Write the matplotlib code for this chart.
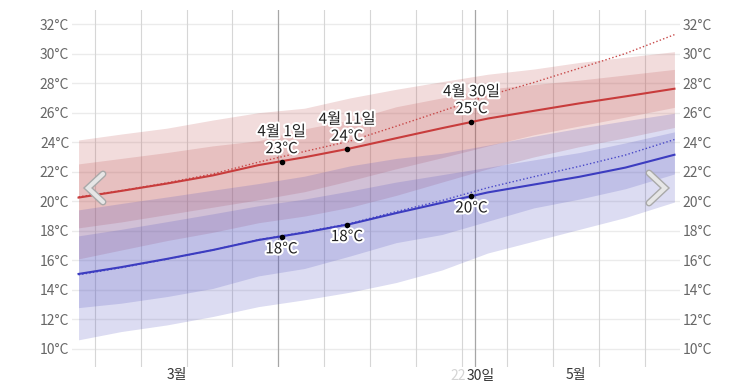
import matplotlib
matplotlib.use("Agg")
import matplotlib.pyplot as plt
import matplotlib.patheffects as pe
from matplotlib.lines import Line2D

plt.rcParams['font.family'] = ['Noto Sans CJK KR', 'DejaVu Sans']

# days counted from 1 Mar 00:00
days = [0.5, 7, 14, 21, 28, 35, 42, 49, 56, 63, 70, 77, 84, 91.5]

red_mean = [20.25, 20.7, 21.2, 21.75, 22.45, 22.98, 23.58, 24.27, 24.95, 25.6, 26.12, 26.63, 27.1, 27.62]
red_dot = [20.3, 20.72, 21.25, 21.85, 22.65, 23.37, 24.08, 25.08, 26.11, 27.15, 28.04, 29.01, 30.0, 31.28]
blue_mean = [15.08, 15.54, 16.1, 16.7, 17.38, 17.88, 18.46, 19.2, 19.9, 20.6, 21.13, 21.66, 22.28, 23.15]
blue_dot = [15.02, 15.5, 16.08, 16.7, 17.4, 17.92, 18.5, 19.3, 20.05, 20.92, 21.66, 22.37, 23.13, 24.18]

red_outer_hi = [24.15, 24.55, 24.95, 25.5, 26.0, 26.3, 27.0, 27.58, 28.1, 28.6, 28.95, 29.4, 29.75, 30.13]
red_outer_lo = [16.1, 16.7, 17.34, 17.9, 18.55, 19.0, 19.6, 20.4, 21.3, 22.2, 23.0, 23.7, 24.3, 25.0]
red_inner_hi = [22.53, 22.9, 23.3, 23.75, 24.1, 24.9, 25.5, 26.4, 27.0, 27.6, 27.9, 28.2, 28.55, 28.93]
red_inner_lo = [18.2, 18.6, 19.1, 19.6, 20.1, 20.65, 21.4, 22.2, 22.95, 23.75, 24.5, 25.1, 25.7, 26.36]
blue_outer_hi = [19.42, 19.85, 20.29, 20.75, 21.2, 21.7, 22.4, 22.9, 23.25, 23.8, 24.4, 24.95, 25.45, 25.96]
blue_outer_lo = [10.62, 11.18, 11.63, 12.2, 12.87, 13.33, 13.85, 14.5, 15.35, 16.5, 17.3, 18.1, 18.9, 19.95]
blue_inner_hi = [17.66, 18.1, 18.62, 19.15, 19.7, 20.15, 20.7, 21.3, 21.8, 22.3, 22.8, 23.3, 23.95, 24.7]
blue_inner_lo = [12.8, 13.1, 13.55, 14.1, 14.95, 15.45, 16.3, 17.2, 17.75, 18.65, 19.55, 20.15, 20.85, 21.85]

# highlighted days
mark_days = [31.5, 41.5, 60.5]
mark_names = ["4월 1일", "4월 11일", "4월 30일"]
mark_red = [22.68, 23.52, 25.39]
mark_blue = [17.59, 18.42, 20.36]

week_lines = [3, 10, 17, 24, 38, 45, 52, 59, 66, 73, 80, 87]
dark_lines = [31, 61]
month_pos = [15.5, 76.5]
month_labels = ["3월", "5월"]
yticks = list(range(10, 33, 2))

RED = "#be5050"
BLUE = "#5050be"

fig = plt.figure(figsize=(7.53, 3.87), dpi=100)
ax = fig.add_axes([72 / 753, 1 - 367 / 387, 608 / 753, 357 / 387])
ax.set_xlim(-0.5, 92.35)
ax.set_ylim(8.78, 32.95)

for y in yticks:
    ax.axhline(y, color="#ebebeb", lw=1, zorder=0)
for d in week_lines:
    ax.axvline(d, color="#d6d6d6", lw=0.8, zorder=0)
for d in dark_lines:
    ax.axvline(d, color="#a6a6a6", lw=0.9, zorder=0)

# bands
ax.fill_between(days, red_outer_lo, red_outer_hi, color=RED, alpha=0.2, lw=0, zorder=1)
ax.fill_between(days, red_inner_lo, red_inner_hi, color=RED, alpha=0.2, lw=0, zorder=1)
ax.fill_between(days, blue_outer_lo, blue_outer_hi, color=BLUE, alpha=0.2, lw=0, zorder=1)
ax.fill_between(days, blue_inner_lo, blue_inner_hi, color=BLUE, alpha=0.2, lw=0, zorder=1)

ax.plot(days, red_dot, color="#c84848", lw=1, ls=(0, (1, 1.6)), zorder=2)
ax.plot(days, blue_dot, color="#4848c8", lw=1, ls=(0, (1, 1.6)), zorder=2)
ax.plot(days, red_mean, color="#c83c3c", lw=1.5, zorder=3)
ax.plot(days, blue_mean, color="#3c3cc0", lw=1.5, zorder=3)

halo = [pe.withStroke(linewidth=3, foreground="white")]
for d, name, r, b in zip(mark_days, mark_names, mark_red, mark_blue):
    ax.plot([d, d], [r, b], "o", color="black", ms=3, zorder=5, ls="none")
    ax.annotate(f"{round(r)}°C", (d, r), xytext=(0, 13), textcoords="offset pixels",
                ha="center", va="center", fontsize=11, color="#222", path_effects=halo, zorder=6)
    ax.annotate(name, (d, r), xytext=(0, 30), textcoords="offset pixels",
                ha="center", va="center", fontsize=11, color="#222", path_effects=halo, zorder=6)
    ax.annotate(f"{round(b)}°C", (d, b), xytext=(0, -12), textcoords="offset pixels",
                ha="center", va="center", fontsize=11, color="#222", path_effects=halo, zorder=6)

ax.set_yticks(yticks)
ax.set_yticklabels([f"{t}°C" for t in yticks])
ax.tick_params(axis="y", length=0, pad=2, labelsize=10, labelcolor="#666666",
               left=True, right=True, labelleft=True, labelright=True)
ax.set_xticks(month_pos)
ax.set_xticklabels(month_labels)
ax.tick_params(axis="x", length=0, pad=1, labelsize=10, labelcolor="#333333")
for s in ax.spines.values():
    s.set_visible(False)

# leftover label near the end of April
ax.text(59.7, -0.006, "30일", transform=ax.get_xaxis_transform(), ha="left", va="top",
        fontsize=10, color="#333333")
ax.text(59.7, -0.006, "22", transform=ax.get_xaxis_transform(), ha="right", va="top",
        fontsize=10, color="#d4d4d4")

# navigation arrows
arrow_fx = [pe.Stroke(linewidth=5, foreground="#a9a9a9"), pe.Normal()]
for xs, ys in [([103, 88, 103], [174, 188, 202]), ([649, 665, 649], [173, 188, 203])]:
    fig.add_artist(Line2D([x / 753 for x in xs], [1 - y / 387 for y in ys],
                          transform=fig.transFigure, color="#e6e6e6", lw=3,
                          solid_capstyle="round", solid_joinstyle="miter",
                          path_effects=arrow_fx, zorder=10))

fig.savefig("out.png", dpi=100)
